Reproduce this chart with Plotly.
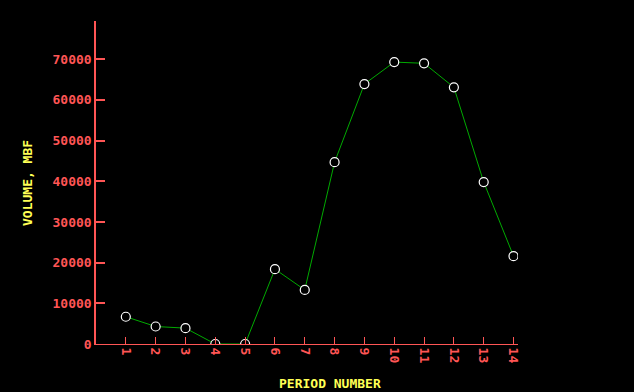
import plotly.graph_objects as go

periods = list(range(1, 15))
volume = [6700, 4300, 3900, 0, 0, 18400, 13300, 44700, 63900, 69300, 69000, 63100, 39800, 21600]
x_ticks = list(range(1, 15))
y_ticks = [0, 10000, 20000, 30000, 40000, 50000, 60000, 70000]

RED = "#ff5555"
YEL = "#ffff55"
FONT = "DejaVu Sans Mono"
FS = 13

W, H = 634, 392
L, R, T, B = 96, 116, 21, 48
pw, ph = W - L - R, H - T - B


def px_x(p):
    return (p - L) / pw


def px_y(p):
    return (H - B - p) / ph


fig = go.Figure()
fig.add_trace(go.Scatter(
    x=periods, y=volume, mode="lines+markers",
    line=dict(color="#00aa00", width=1),
    marker=dict(symbol="circle", size=9, color="black",
                line=dict(color="white", width=1.2)),
    showlegend=False, cliponaxis=True,
))

fig.update_layout(
    width=W, height=H,
    paper_bgcolor="black", plot_bgcolor="black",
    margin=dict(l=L, r=R, t=T, b=B),
    xaxis=dict(range=[0, 14.15], tickvals=x_ticks, ticktext=[str(v) for v in x_ticks],
               showgrid=False, zeroline=False, showline=True, linecolor=RED, linewidth=1,
               ticks="inside", ticklen=7, tickcolor=RED, tickwidth=1, tickangle=90,
               layer="above traces",
               tickfont=dict(family=FONT, size=FS, color=RED, weight="bold")),
    yaxis=dict(range=[0, 79400], tickvals=y_ticks, ticktext=[str(v) for v in y_ticks],
               showgrid=False, zeroline=False, showline=True, linecolor=RED, linewidth=1.5,
               ticks="inside", ticklen=9, tickcolor=RED, tickwidth=1.5,
               layer="above traces",
               tickfont=dict(family=FONT, size=FS, color=RED, weight="bold")),
    annotations=[
        dict(text="PERIOD NUMBER", x=px_x(330), y=px_y(383), xref="paper", yref="paper",
             xanchor="center", yanchor="middle",
             showarrow=False, font=dict(family=FONT, size=FS, color=YEL, weight="bold")),
        dict(text="VOLUME, MBF", x=px_x(27), y=px_y(183), xref="paper", yref="paper",
             xanchor="center", yanchor="middle",
             textangle=-90, showarrow=False,
             font=dict(family=FONT, size=FS, color=YEL, weight="bold")),
    ],
)

fig.write_html("out.html", config={"displayModeBar": False},
               post_script="document.body.style.margin='0';document.body.style.background='black';")
